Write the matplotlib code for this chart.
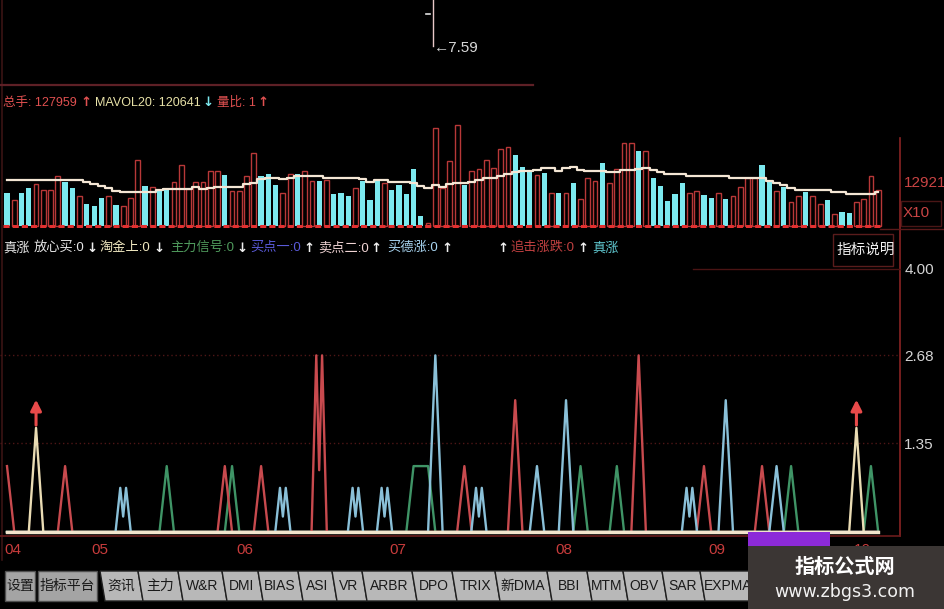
import numpy as np
import matplotlib.pyplot as plt
from matplotlib.patches import Rectangle, Polygon
from matplotlib.transforms import blended_transform_factory

W, H = 945, 609

# ---- volume panel data (千手 per day) ----
vol = [117, 92, 117, 135, 149, 128, 128, 178, 156, 135, 107, 78, 71, 99, 107, 75, 71, 99, 234, 142,
       138, 124, 131, 156, 217, 131, 156, 156, 195, 195, 181,
       124, 124, 178, 259, 178, 185, 146, 117, 185, 185, 195, 160, 160, 163, 114, 117, 107, 135, 160,
       92, 160, 153, 128, 146, 114, 202, 36, 11, 348, 135, 231,
       359, 146, 195, 202, 234, 206, 273, 280, 252, 209, 192, 181, 188, 117, 117, 117, 153, 96, 170,
       160, 224, 153, 202, 295, 295, 266, 266, 170, 142, 89, 114,
       153, 117, 124, 110, 99, 117, 96, 107, 138, 170, 170, 217, 156, 124, 138, 85, 107, 121, 107, 78,
       92, 43, 50, 46, 85, 96, 178, 128]
up = [0, 1, 0, 0, 1, 1, 1, 1, 0, 0, 1, 0, 0, 0, 1, 0, 1, 1, 1, 0, 1, 0, 0, 1, 1, 1, 1, 1, 1, 1, 0,
      1, 1, 1, 1, 0, 0, 0, 1, 1, 0, 1, 1, 0, 1, 0, 0, 0, 1, 0, 0, 0, 1, 0, 0, 0, 0, 0, 1, 1, 1, 1,
      1, 0, 1, 1, 1, 1, 1, 1, 0, 0, 0, 1, 0, 1, 0, 1, 0, 1, 1, 1, 0, 1, 1, 1, 1, 0, 1, 0, 0, 0, 0,
      0, 1, 1, 0, 0, 1, 0, 1, 1, 1, 1, 0, 0, 1, 0, 1, 1, 0, 1, 1, 0, 1, 0, 0, 1, 1, 1, 1]
ma20 = [163] * 11 + [155, 149, 143, 134, 125, 120, 120, 120, 120, 120, 127, 130, 130, 130, 130, 140,
        131, 136, 138, 139,
        138, 138, 148, 154, 168, 171, 171, 167, 171, 179, 179, 179, 179, 171, 171, 171, 171, 169, 166,
        157, 163, 163, 157, 157, 157, 152, 143, 136, 146, 140, 149,
        154, 154, 157, 163, 169, 169, 178, 184, 193, 195, 195, 199, 205, 205, 196, 205, 211, 199, 195,
        195, 195, 191, 193, 199, 199, 202, 205, 199, 191, 184, 184,
        184, 178, 178, 178, 178, 178, 178, 171, 171, 171, 171, 169, 161, 152, 146, 136, 128, 128, 128,
        128, 128, 122, 122, 113, 113, 113, 114, 121]

total_hands = 127959
mavol20 = 120641
vol_ratio = 1
scale_tick = 129.21     # 12921 x10 手
price_last = 7.59

month_labels = ["04", "05", "06", "07", "08", "09", "10"]
month_start = [0, 12, 32, 53, 76, 97, 117]

# ---- signal panel data (bar index: value) ----
sig_red = {0: 1.0, 8: 1.0, 30: 1.0, 35: 1.0, 63: 1.0, 70: 2.0, 87: 2.68, 96: 1.0, 104: 1.0}
sig_blue = {59: 2.68, 73: 1.0, 77: 2.0, 99: 2.0, 106: 1.0}
sig_green = {22: 1.0, 31: 1.0, 56: 1.0, 57: 1.0, 58: 1.0, 79: 1.0, 84: 1.0, 108: 1.0, 119: 1.0}
sig_beige = {4: 1.58, 117: 1.58}
twin_blue = {16: 0.67, 38: 0.67, 48: 0.67, 52: 0.67, 65: 0.67, 94: 0.67}
twin_red = {43: 2.68}
buy_arrow_idx = [4, 117]
arrow_top = 2.05
sig_ticks = [1.35, 2.68, 4.00]

tab_names = ["设置", "指标平台", "资讯", "主力", "W&R", "DMI", "BIAS", "ASI", "VR", "ARBR", "DPO",
             "TRIX", "新DMA", "BBI", "MTM", "OBV", "SAR", "EXPMA"]

# ---- layout ----
X0, DX = 7, 7.26          # pixel x of bar 0, pixel step per bar
tab_edges = [5, 38, 100, 138, 178, 222, 258, 298, 332, 362, 412, 452, 495, 547, 587, 623, 662, 700, 752]

SANS = ['Liberation Sans', 'Noto Sans CJK SC', 'DejaVu Sans']
CJK = ['Noto Sans CJK SC', 'DejaVu Sans']
ARROW = ['DejaVu Sans']
RED = '#c94444'
CYAN = '#7ce9ef'

n = len(vol)
idx = np.arange(n)
vol = np.array(vol)
up = np.array(up, dtype=bool)


def frac(x0, y0, x1, y1):
    return [x0 / W, 1 - y1 / H, (x1 - x0) / W, (y1 - y0) / H]


fig = plt.figure(figsize=(W / 100, H / 100), dpi=100, facecolor='black')

ov = fig.add_axes([0, 0, 1, 1])
ov.set_xlim(0, W)
ov.set_ylim(H, 0)
ov.axis('off')


def label(x, y, s, color, size=9.5, fam=SANS, **kw):
    ov.text(x, y, s, color=color, fontsize=size, family=fam, va='center', ha='left', **kw)


# frame lines
ov.plot([2, 2], [0, 560], color='#3a1414', lw=1.2)
ov.plot([0, 533], [85, 85], color='#5e2026', lw=1.6)
ov.plot([900, 900], [138, 536], color='#8a2424', lw=1.2)
ov.plot([880, 945], [229, 229], color='#5a1a1a', lw=1)
ov.plot([0, 900], [535.5, 535.5], color='#6a1c1c', lw=1.2)
ov.plot([693, 900], [269, 269], color='#4a1414', lw=1)
ov.add_patch(Rectangle((901, 201), 40, 25, fill=False, ec='#4a1616', lw=1))

# price line stub at the top
ov.plot([433, 433], [0, 46], color='#e8c8c8', lw=1)
ov.plot([426, 430], [14, 14], color='#e0e0e0', lw=1.2)
label(434, 48, f"←{price_last:.2f}", '#d8d8d8', size=11)

# volume header
label(3, 103, f"总手: {total_hands}", '#e05050', size=9)
label(80, 103, "↑", '#e05050', fam=ARROW, weight='bold')
label(95, 103, f"MAVOL20: {mavol20}", '#e8e2a8', size=9)
label(202, 103, "↓", CYAN, fam=ARROW, weight='bold')
label(217, 103, f"量比: {vol_ratio}", '#e05050', size=9)
label(257, 103, "↑", '#e05050', fam=ARROW, weight='bold')
label(903, 213, "X10", RED, size=11)

# signal header
for x, s, c in [(3, "真涨", '#e8e8e8'), (34, "放心买:0", '#e8e8e8'), (100, "淘金上:0", '#f0e8c0'),
                (170, "主力信号:0", '#4f9a5c'), (250, "买点一:0", '#5a5ad8'), (318, "卖点二:0", '#f0d4d4'),
                (387, "买德涨:0", '#a8d4f0'), (510, "追击涨跌:0", '#c04040'), (592, "真涨", '#60c8d0')]:
    label(x, 248, s, c)
for x, s in [(86, "↓"), (153, "↓"), (236, "↓"), (303, "↑"), (370, "↑"), (441, "↑"), (497, "↑"),
             (577, "↑")]:
    label(x, 248, s, '#f0f0f0', fam=ARROW, weight='bold')

ov.add_patch(Rectangle((833, 234), 60, 32, fill=False, ec='#5a1c1c', lw=1))
label(837, 250, "指标说明", '#f0f0f0', size=10.5, fam=CJK)

# bottom tabs
for i, name in enumerate(tab_names):
    a, b = tab_edges[i], tab_edges[i + 1]
    if i < 2:
        ov.add_patch(Rectangle((a, 571), b - a - 3, 30, fc='#a4a4a4', ec='#505050', lw=1))
        cx = a + (b - a - 3) / 2
    else:
        ov.add_patch(Polygon([(a, 571), (b, 571), (b + 5, 601), (a + 5, 601)],
                             closed=True, fc='#b8b8b8', ec='#202020', lw=1))
        cx = (a + b) / 2 + 2
    ov.text(cx, 586, name, color='#1a1a1a', fontsize=10, family=SANS, ha='center', va='center')

xlim = (-X0 / DX, (900 - X0) / DX)

# ---- volume axes ----
vax = fig.add_axes(frac(0, 110, 900, 228))
vax.set_facecolor('none')
vpx = 3.55  # 千手 per pixel
vax.set_xlim(*xlim)
vax.set_ylim(-2 * vpx, 116 * vpx)
vax.bar(idx[~up], vol[~up], width=0.72, color=CYAN, lw=0)
vax.bar(idx[up], vol[up], width=0.66, facecolor='none', edgecolor='#b83838', lw=1.0)
vax.plot([-0.5, n - 0.5], [0, 0], color='#e23030', lw=2.2, dashes=(2, 1))
vax.plot(idx, ma20, drawstyle='steps-mid', color='#f4e6d4', lw=1.6)
for s in vax.spines.values():
    s.set_visible(False)
vax.set_xticks([])
vax.yaxis.tick_right()
vax.set_yticks([scale_tick])
vax.set_yticklabels([f"{round(scale_tick * 100)}"], color=RED, fontsize=11, family=SANS, va='bottom')
vax.tick_params(length=0, pad=3)

# ---- signal axes ----
sax = fig.add_axes(frac(0, 262, 900, 536))
sax.set_facecolor('none')
spx = 65.9  # pixels per unit
sax.set_xlim(*xlim)
sax.set_ylim(-4 / spx, 270 / spx)
for s in sax.spines.values():
    s.set_visible(False)
for t in sig_ticks[:2]:
    sax.axhline(t, color='#4e1616', lw=1, ls=(0, (1, 2)))


def series(d):
    arr = np.zeros(n)
    for k, v in d.items():
        arr[k] = v
    return arr


LW = 1.7
sax.plot(idx, series(sig_green), color='#3f9466', lw=LW)
sax.plot(idx, series(sig_red), color='#c84a4e', lw=LW)
sax.plot(idx, series(sig_blue), color='#8ac0d8', lw=LW)
sax.plot(idx, series(sig_beige), color='#eadcb4', lw=LW)
for d, c in [(twin_blue, '#8ac0d8'), (twin_red, '#c84a4e')]:
    for k, v in d.items():
        sax.plot([k - 1.05, k - 0.4, k, k + 0.4, k + 1.05], [0, v, 0.35 * v, v, 0], color=c, lw=LW)
for k in buy_arrow_idx:
    sax.annotate('', xy=(k, arrow_top), xytext=(k, sig_beige[k]),
                 arrowprops=dict(arrowstyle='-|>', color='#e84a4a', lw=2.2, mutation_scale=16))
sax.plot([0, n - 1], [0, 0], color='#f2e4cc', lw=2.4)

sax.set_xticks([])
sax.yaxis.tick_right()
sax.set_yticks(sig_ticks)
sax.set_yticklabels([f"{t:.2f}" for t in sig_ticks], color='#d4d4d4', fontsize=11, family=SANS)
sax.tick_params(length=0, pad=3)

tr = blended_transform_factory(sax.transData, ov.transData)
for m, lbl in zip(month_start, month_labels):
    sax.text(m - 0.4, 550, lbl, transform=tr, color='#c83c3c', fontsize=11, family=SANS,
             ha='left', va='center', clip_on=False)

# ---- watermark on top ----
top = fig.add_axes([0, 0, 1, 1])
top.set_xlim(0, W)
top.set_ylim(H, 0)
top.axis('off')
top.patch.set_alpha(0)
top.add_patch(Rectangle((748, 532), 82, 14, fc='#8c2ad8', ec='none'))
top.add_patch(Rectangle((748, 546), 197, 63, fc='#3b3634', ec='none'))
top.text(845, 566, "指标公式网", color='white', fontsize=14.5, family=CJK, weight='bold',
         ha='center', va='center')
top.text(845, 592, "www.zbgs3.com", color='#f2f2f2', fontsize=12.5, family=['DejaVu Sans'],
         ha='center', va='center')

fig.savefig("out.png", dpi=100, facecolor='black')
